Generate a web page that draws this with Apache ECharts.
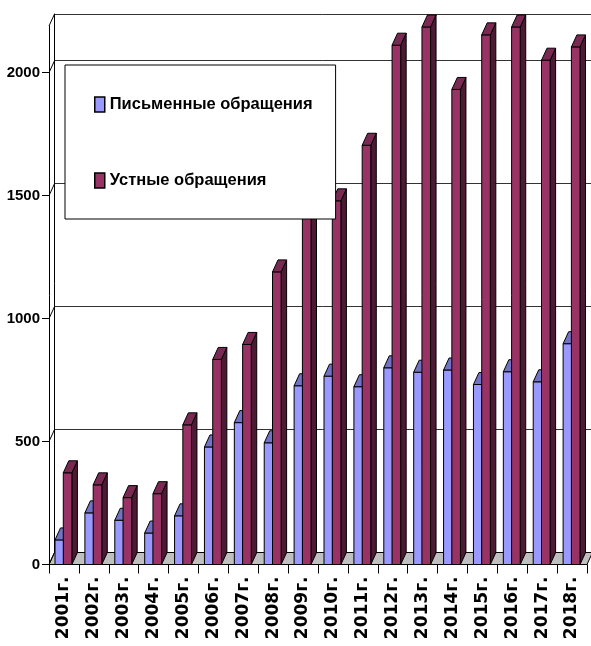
<!DOCTYPE html>
<html>
<head>
<meta charset="utf-8">
<script src="https://cdn.jsdelivr.net/npm/echarts@6/dist/echarts.min.js"></script>
<style>
html,body{margin:0;padding:0;background:#fff;}
#chart{width:591px;height:646px;}
</style>
</head>
<body>
<div id="chart"></div>
<script>
// ---- data ----
const categories = ['2001г.','2002г.','2003г.','2004г.','2005г.','2006г.','2007г.','2008г.','2009г.','2010г.','2011г.','2012г.','2013г.','2014г.','2015г.','2016г.','2017г.','2018г.'];
const written = [100,210,180,128,198,478,577,495,727,766,723,800,782,791,732,784,743,898];
const oral = [373,324,272,288,568,834,895,1190,1441,1479,1705,2112,2186,1932,2154,2186,2051,2105];
const yTicks = [0,500,1000,1500,2000];
const yMax = 2190;
const seriesNames = ['Письменные обращения','Устные обращения'];

// ---- style / geometry constants ----
const DX = 5.5, DY = -12;        // 3D depth offset
const BAR_W = 0.288;             // bar width as fraction of band
const SLOT = [-0.299, -0.022];   // bar left offset from band centre (fraction of band)
const COLORS = [
  {front:'#9999ff', top:'#7373c6', side:'#4d4d80'},
  {front:'#993366', top:'#7a2952', side:'#4d1a33'}
];
const SANS = "'Liberation Sans',Arial,sans-serif";

function barRenderer(s){
  const col = COLORS[s];
  return function(params, api){
    const i = api.value(0), v = api.value(1);
    const c = api.coord([i, v]);
    const b = api.coord([i, 0]);
    const band = api.size([1,0])[0];
    const x0 = c[0] + band*SLOT[s];
    const w = band*BAR_W;
    const x1 = x0 + w;
    const ty = c[1], by = b[1];
    const ls = {stroke:'#000', lineWidth:1, lineJoin:'round'};
    return {type:'group', children:[
      {type:'polygon', shape:{points:[[x1,ty],[x1+DX,ty+DY],[x1+DX,by+DY],[x1,by]]}, style:Object.assign({fill:col.side}, ls)},
      {type:'rect', shape:{x:x0, y:ty, width:w, height:by-ty}, style:Object.assign({fill:col.front}, ls)},
      {type:'polygon', shape:{points:[[x0,ty],[x1,ty],[x1+DX,ty+DY],[x0+DX,ty+DY]]}, style:Object.assign({fill:col.top}, ls)}
    ]};
  };
}

function floorRenderer(params, api){
  const band = api.size([1,0])[0];
  const a = api.coord([0, 0]);
  const z = api.coord([categories.length-1, 0]);
  const xl = a[0]-band/2, xr = z[0]+band/2, y = a[1];
  return {type:'polygon', shape:{points:[[xl,y],[xr,y],[xr+DX,y+DY],[xl+DX,y+DY]]},
          style:{fill:'#c0c0c0', stroke:'#000', lineWidth:1}};
}

function wallRenderer(params, api){
  const band = api.size([1,0])[0];
  const p = api.coord([0, api.value(1)]);
  const x = p[0]-band/2;
  return {type:'line', shape:{x1:x, y1:p[1], x2:x+DX, y2:p[1]+DY}, style:{stroke:'#000', lineWidth:1}};
}

const wallLevels = yTicks.concat([yMax]);

const chart = echarts.init(document.getElementById('chart'), null, {renderer:'canvas'});
chart.setOption({
  backgroundColor:'#fff',
  animation:false,
  grid:[
    {left:49, top:26, width:538, height:538.5},
    {left:54.5, top:14, width:538, height:538.5}
  ],
  xAxis:[
    {type:'category', gridIndex:0, data:categories, boundaryGap:true,
     axisLine:{show:true, lineStyle:{color:'#000', width:1}},
     axisTick:{show:true, interval:0, length:9, lineStyle:{color:'#000'}},
     axisLabel:{interval:0, rotate:90, margin:12, color:'#000', fontWeight:'bold',
                fontSize:17, fontFamily:"'DejaVu Sans',Verdana,sans-serif"},
     splitLine:{show:false}},
    {type:'category', gridIndex:1, data:categories, boundaryGap:true, show:false}
  ],
  yAxis:[
    {type:'value', gridIndex:0, min:0, max:yMax, interval:500,
     axisLine:{show:true, lineStyle:{color:'#000', width:1}},
     axisTick:{show:true, inside:false, length:7, customValues:yTicks, lineStyle:{color:'#000'}},
     axisLabel:{customValues:yTicks, margin:9, color:'#000', fontWeight:'bold', fontSize:15, fontFamily:SANS,
                formatter:function(v){return String(v);}},
     splitLine:{show:false}},
    {type:'value', gridIndex:1, min:0, max:yMax, interval:500,
     axisLine:{show:true, lineStyle:{color:'#000', width:1}},
     axisTick:{show:false}, axisLabel:{show:false},
     splitLine:{show:true, lineStyle:{color:'#333', width:1}}}
  ],
  legend:{
    data:seriesNames, orient:'vertical', left:65, top:65,
    backgroundColor:'#fff', borderColor:'#000', borderWidth:1,
    padding:[31, 23, 30, 29], itemGap:59, itemWidth:10, itemHeight:15,
    icon:'rect',
    itemStyle:{borderColor:'#000', borderWidth:1.5},
    textStyle:{color:'#000', fontWeight:'bold', fontSize:16.5, fontFamily:SANS}
  },
  series:[
    {type:'custom', name:'floor', xAxisIndex:0, yAxisIndex:0, z:1, clip:false, silent:true,
     renderItem:floorRenderer, data:[[0,0]]},
    {type:'custom', name:'wall', xAxisIndex:0, yAxisIndex:0, z:1, clip:false, silent:true,
     renderItem:wallRenderer, data:wallLevels.map(v=>[0,v])},
    {type:'custom', name:seriesNames[0], xAxisIndex:0, yAxisIndex:0, z:2, clip:false,
     itemStyle:{color:COLORS[0].front}, renderItem:barRenderer(0),
     data:written.map((v,i)=>[i,v])},
    {type:'custom', name:seriesNames[1], xAxisIndex:0, yAxisIndex:0, z:3, clip:false,
     itemStyle:{color:COLORS[1].front}, renderItem:barRenderer(1),
     data:oral.map((v,i)=>[i,v])}
  ]
});
</script>
</body>
</html>
